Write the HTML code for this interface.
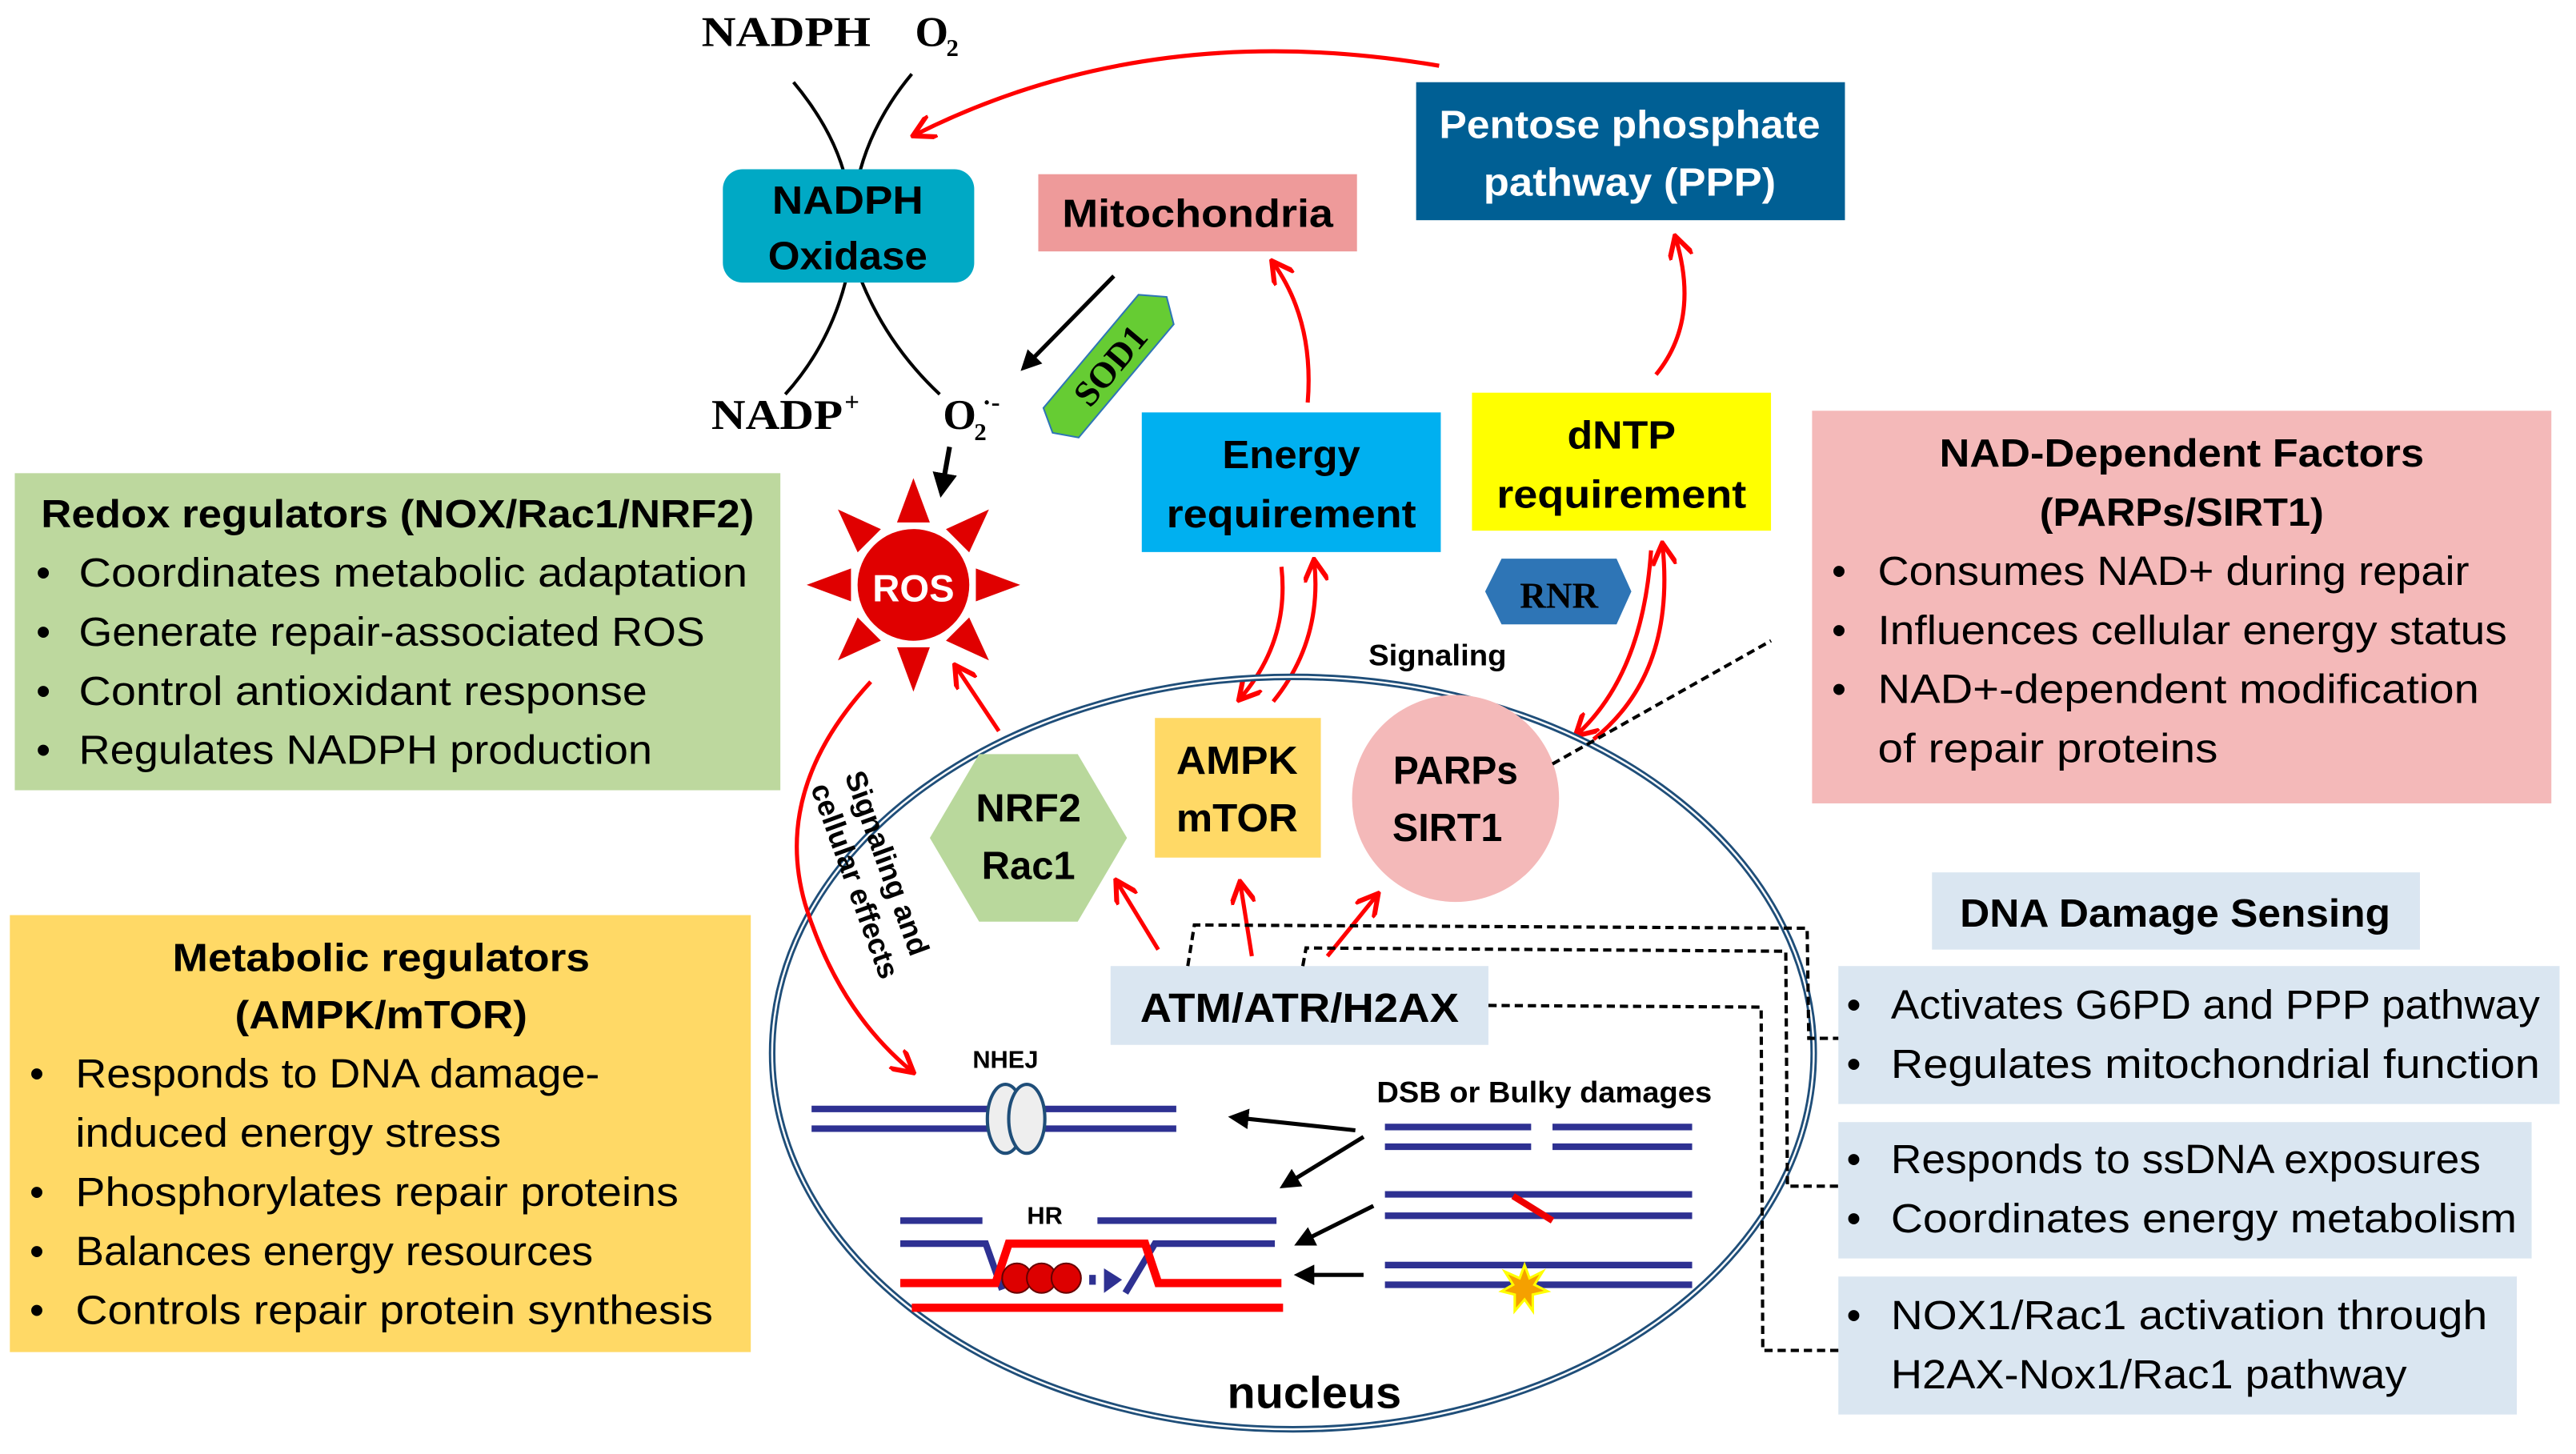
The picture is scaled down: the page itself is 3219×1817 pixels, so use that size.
<!DOCTYPE html>
<html><head><meta charset="utf-8"><style>
html,body{margin:0;padding:0;background:#fff;}
svg{display:block;}
text{font-family:"Liberation Sans",sans-serif;}
.s{font-family:"Liberation Serif",serif;font-weight:bold;}
.b{font-weight:bold;}
</style></head><body>
<svg width="3219" height="1817" viewBox="0 0 1568 885" xmlns="http://www.w3.org/2000/svg">
<defs>
<marker id="ra" viewBox="0 0 10 10" refX="8" refY="5" markerWidth="6" markerHeight="6" orient="auto"><path d="M0,0 L9,5 L0,10" fill="none" stroke="#f00" stroke-width="2"/></marker>
<marker id="ba" viewBox="0 0 10 10" refX="8" refY="5" markerWidth="5" markerHeight="5" orient="auto"><path d="M0,0 L10,5 L0,10 z" fill="#000"/></marker>
</defs>
<rect width="1568" height="885" fill="#fff"/>

<text x="427" y="28" class="s" font-size="26" textLength="103" lengthAdjust="spacingAndGlyphs">NADPH</text>
<text x="557" y="28" class="s" font-size="26">O</text><text x="576" y="34" class="s" font-size="15">2</text>
<path d="M483,50 Q508,80 515,110" fill="none" stroke="#000" stroke-width="2"/>
<path d="M555,45 Q530,75 522,110" fill="none" stroke="#000" stroke-width="2"/>
<path d="M515,170 Q505,210 478,240" fill="none" stroke="#000" stroke-width="2"/>
<path d="M524,170 Q540,210 572,240" fill="none" stroke="#000" stroke-width="2"/>
<rect x="440" y="103" width="153" height="69" rx="12" fill="#00A9C5"/>
<text x="516" y="130" text-anchor="middle" class="b" font-size="24" textLength="92" lengthAdjust="spacingAndGlyphs">NADPH</text>
<text x="516" y="164" text-anchor="middle" class="b" font-size="24" textLength="97" lengthAdjust="spacingAndGlyphs">Oxidase</text>
<text x="433" y="261" class="s" font-size="26" textLength="80" lengthAdjust="spacingAndGlyphs">NADP</text><text x="514" y="250" class="s" font-size="16">+</text>
<text x="574" y="261" class="s" font-size="26">O</text><text x="593" y="268" class="s" font-size="15">2</text><text x="598" y="250" class="s" font-size="16">·-</text>

<rect x="632" y="106" width="194" height="47" fill="#EE9A9A"/>
<text x="729" y="138" text-anchor="middle" class="b" font-size="24" textLength="165" lengthAdjust="spacingAndGlyphs">Mitochondria</text>
<rect x="862" y="50" width="261" height="84" fill="#005F94"/>
<text x="992" y="84" text-anchor="middle" class="b" font-size="24" fill="#fff" textLength="232" lengthAdjust="spacingAndGlyphs">Pentose phosphate</text>
<text x="992" y="119" text-anchor="middle" class="b" font-size="24" fill="#fff" textLength="178" lengthAdjust="spacingAndGlyphs">pathway (PPP)</text>
<path d="M876,40 Q700,10 557,82" fill="none" stroke="#f00" stroke-width="2.5" marker-end="url(#ra)"/>

<g transform="translate(678,219) rotate(-50)">
<polygon points="-50,-14 40,-14 50,0 40,14 -50,14 -58,0" fill="#66CC33" stroke="#2E75B6" stroke-width="1"/>
<text x="-4" y="8" text-anchor="middle" class="s" font-size="22">SOD1</text>
</g>
<line x1="678" y1="168" x2="623" y2="224" stroke="#000" stroke-width="2.5" marker-end="url(#ba)"/>
<line x1="578" y1="272" x2="573" y2="300" stroke="#000" stroke-width="3" marker-end="url(#ba)"/>

<g transform="translate(556,356)" fill="#E00000">
<g id="tri"><polygon points="-10,-38 10,-38 0,-65"/></g>
<use href="#tri" transform="rotate(45)"/><use href="#tri" transform="rotate(90)"/><use href="#tri" transform="rotate(135)"/>
<use href="#tri" transform="rotate(180)"/><use href="#tri" transform="rotate(225)"/><use href="#tri" transform="rotate(270)"/><use href="#tri" transform="rotate(315)"/>
<circle r="34"/>
</g>
<text x="556" y="366" text-anchor="middle" class="b" font-size="23" fill="#fff">ROS</text>

<rect x="695" y="251" width="182" height="85" fill="#00B0F0"/>
<text x="786" y="285" text-anchor="middle" class="b" font-size="24" textLength="84" lengthAdjust="spacingAndGlyphs">Energy</text>
<text x="786" y="321" text-anchor="middle" class="b" font-size="24" textLength="152" lengthAdjust="spacingAndGlyphs">requirement</text>
<rect x="896" y="239" width="182" height="84" fill="#FFFF00"/>
<text x="987" y="273" text-anchor="middle" class="b" font-size="24" textLength="66" lengthAdjust="spacingAndGlyphs">dNTP</text>
<text x="987" y="309" text-anchor="middle" class="b" font-size="24" textLength="152" lengthAdjust="spacingAndGlyphs">requirement</text>
<polygon points="914,340 984,340 993,360 984,380 914,380 904,360" fill="#2E75B6"/>
<text x="949" y="370" text-anchor="middle" class="s" font-size="22">RNR</text>
<text x="875" y="405" text-anchor="middle" class="b" font-size="18" textLength="84" lengthAdjust="spacingAndGlyphs">Signaling</text>

<path d="M796,245 Q800,195 775,160" fill="none" stroke="#f00" stroke-width="2.5" marker-end="url(#ra)"/>
<path d="M1008,228 Q1035,195 1020,145" fill="none" stroke="#f00" stroke-width="2.5" marker-end="url(#ra)"/>
<path d="M780,345 Q785,390 755,425" fill="none" stroke="#f00" stroke-width="2.5" marker-end="url(#ra)"/>
<path d="M775,427 Q805,390 800,342" fill="none" stroke="#f00" stroke-width="2.5" marker-end="url(#ra)"/>
<path d="M1005,335 Q1000,410 960,447" fill="none" stroke="#f00" stroke-width="2.5" marker-end="url(#ra)"/>
<path d="M970,450 Q1020,410 1012,332" fill="none" stroke="#f00" stroke-width="2.5" marker-end="url(#ra)"/>

<rect x="9" y="288" width="466" height="193" fill="#BDD89E"/>
<text x="242" y="321" text-anchor="middle" class="b" font-size="24" textLength="434" lengthAdjust="spacingAndGlyphs">Redox regulators (NOX/Rac1/NRF2)</text>
<g font-size="25">
<text x="22" y="357">•</text><text x="48" y="357" textLength="407" lengthAdjust="spacingAndGlyphs">Coordinates metabolic adaptation</text>
<text x="22" y="393">•</text><text x="48" y="393" textLength="381" lengthAdjust="spacingAndGlyphs">Generate repair-associated ROS</text>
<text x="22" y="429">•</text><text x="48" y="429" textLength="346" lengthAdjust="spacingAndGlyphs">Control antioxidant response</text>
<text x="22" y="465">•</text><text x="48" y="465" textLength="349" lengthAdjust="spacingAndGlyphs">Regulates NADPH production</text></g>

<rect x="6" y="557" width="451" height="266" fill="#FFD966"/>
<text x="232" y="591" text-anchor="middle" class="b" font-size="24" textLength="254" lengthAdjust="spacingAndGlyphs">Metabolic regulators</text>
<text x="232" y="626" text-anchor="middle" class="b" font-size="24" textLength="178" lengthAdjust="spacingAndGlyphs">(AMPK/mTOR)</text>
<g font-size="25">
<text x="18" y="662">•</text><text x="46" y="662" textLength="319" lengthAdjust="spacingAndGlyphs">Responds to DNA damage-</text>
<text x="46" y="698" textLength="259" lengthAdjust="spacingAndGlyphs">induced energy stress</text>
<text x="18" y="734">•</text><text x="46" y="734" textLength="367" lengthAdjust="spacingAndGlyphs">Phosphorylates repair proteins</text>
<text x="18" y="770">•</text><text x="46" y="770" textLength="315" lengthAdjust="spacingAndGlyphs">Balances energy resources</text>
<text x="18" y="806">•</text><text x="46" y="806" textLength="388" lengthAdjust="spacingAndGlyphs">Controls repair protein synthesis</text></g>

<rect x="1103" y="250" width="450" height="239" fill="#F4B9B9"/>
<text x="1328" y="284" text-anchor="middle" class="b" font-size="24" textLength="295" lengthAdjust="spacingAndGlyphs">NAD-Dependent Factors</text>
<text x="1328" y="320" text-anchor="middle" class="b" font-size="24" textLength="173" lengthAdjust="spacingAndGlyphs">(PARPs/SIRT1)</text>
<g font-size="25">
<text x="1115" y="356">•</text><text x="1143" y="356" textLength="360" lengthAdjust="spacingAndGlyphs">Consumes NAD+ during repair</text>
<text x="1115" y="392">•</text><text x="1143" y="392" textLength="383" lengthAdjust="spacingAndGlyphs">Influences cellular energy status</text>
<text x="1115" y="428">•</text><text x="1143" y="428" textLength="366" lengthAdjust="spacingAndGlyphs">NAD+-dependent modification</text>
<text x="1143" y="464" textLength="207" lengthAdjust="spacingAndGlyphs">of repair proteins</text></g>

<rect x="1176" y="531" width="297" height="47" fill="#DAE6F1"/>
<text x="1324" y="564" text-anchor="middle" class="b" font-size="24" textLength="262" lengthAdjust="spacingAndGlyphs">DNA Damage Sensing</text>
<rect x="1119" y="588" width="439" height="84" fill="#DAE6F1"/>
<rect x="1119" y="683" width="422" height="83" fill="#DAE6F1"/>
<rect x="1119" y="777" width="413" height="84" fill="#DAE6F1"/>
<g font-size="25">
<text x="1124" y="620">•</text><text x="1151" y="620" textLength="395" lengthAdjust="spacingAndGlyphs">Activates G6PD and PPP pathway</text>
<text x="1124" y="656">•</text><text x="1151" y="656" textLength="395" lengthAdjust="spacingAndGlyphs">Regulates mitochondrial function</text>
<text x="1124" y="714">•</text><text x="1151" y="714" textLength="359" lengthAdjust="spacingAndGlyphs">Responds to ssDNA exposures</text>
<text x="1124" y="750">•</text><text x="1151" y="750" textLength="381" lengthAdjust="spacingAndGlyphs">Coordinates energy metabolism</text>
<text x="1124" y="809">•</text><text x="1151" y="809" textLength="363" lengthAdjust="spacingAndGlyphs">NOX1/Rac1 activation through</text>
<text x="1151" y="845" textLength="314" lengthAdjust="spacingAndGlyphs">H2AX-Nox1/Rac1 pathway</text></g>

<ellipse cx="787" cy="641" rx="317" ry="229" fill="none" stroke="#1F4E79" stroke-width="4"/>
<ellipse cx="787" cy="641" rx="317" ry="229" fill="none" stroke="#fff" stroke-width="1.2"/>
<text x="800" y="857" text-anchor="middle" class="b" font-size="27" textLength="106" lengthAdjust="spacingAndGlyphs">nucleus</text>

<polygon points="596,459 656,459 686,510 656,561 596,561 566,510" fill="#B9D89C"/>
<text x="626" y="500" text-anchor="middle" class="b" font-size="24" textLength="64" lengthAdjust="spacingAndGlyphs">NRF2</text>
<text x="626" y="535" text-anchor="middle" class="b" font-size="24" textLength="57" lengthAdjust="spacingAndGlyphs">Rac1</text>
<rect x="703" y="437" width="101" height="85" fill="#FFD966"/>
<text x="753" y="471" text-anchor="middle" class="b" font-size="24" textLength="74" lengthAdjust="spacingAndGlyphs">AMPK</text>
<text x="753" y="506" text-anchor="middle" class="b" font-size="24" textLength="74" lengthAdjust="spacingAndGlyphs">mTOR</text>
<circle cx="886" cy="486" r="63" fill="#F4B9B9"/>
<text x="886" y="477" text-anchor="middle" class="b" font-size="24" textLength="76" lengthAdjust="spacingAndGlyphs">PARPs</text>
<text x="881" y="512" text-anchor="middle" class="b" font-size="24" textLength="67" lengthAdjust="spacingAndGlyphs">SIRT1</text>
<rect x="676" y="588" width="230" height="48" fill="#DAE6F1"/>
<text x="791" y="622" text-anchor="middle" class="b" font-size="25" textLength="194" lengthAdjust="spacingAndGlyphs">ATM/ATR/H2AX</text>

<line x1="608" y1="445" x2="582" y2="406" stroke="#f00" stroke-width="2.5" marker-end="url(#ra)"/>
<line x1="705" y1="578" x2="680" y2="537" stroke="#f00" stroke-width="2.5" marker-end="url(#ra)"/>
<line x1="762" y1="582" x2="755" y2="538" stroke="#f00" stroke-width="2.5" marker-end="url(#ra)"/>
<line x1="808" y1="582" x2="838" y2="545" stroke="#f00" stroke-width="2.5" marker-end="url(#ra)"/>
<path d="M530,415 Q470,480 490,550 Q510,615 555,652" fill="none" stroke="#f00" stroke-width="2.5" marker-end="url(#ra)"/>
<g transform="translate(514,472) rotate(70)">
<text x="0" y="0" class="b" font-size="18" textLength="118" lengthAdjust="spacingAndGlyphs">Signaling and</text>
<text x="0" y="22" class="b" font-size="18" textLength="125" lengthAdjust="spacingAndGlyphs">cellular effects</text></g>

<g fill="none" stroke="#000" stroke-width="2" stroke-dasharray="5,3">
<path d="M945,465 L1078,390"/>
<path d="M723,588 L727,563 L1100,565 L1101,632 L1119,632"/>
<path d="M793,588 L795,577 L1087,579 L1088,722 L1119,722"/>
<path d="M906,612 L1072,613 L1073,822 L1119,822"/>
</g>

<g stroke="#2E3192" stroke-width="4">
<line x1="494" y1="675" x2="716" y2="675"/><line x1="494" y1="687" x2="716" y2="687"/>
<line x1="843" y1="686" x2="932" y2="686"/><line x1="945" y1="686" x2="1030" y2="686"/>
<line x1="843" y1="698" x2="932" y2="698"/><line x1="945" y1="698" x2="1030" y2="698"/>
<line x1="843" y1="727" x2="1030" y2="727"/><line x1="843" y1="740" x2="1030" y2="740"/>
<line x1="843" y1="770" x2="1030" y2="770"/><line x1="843" y1="782" x2="1030" y2="782"/>
<line x1="548" y1="743" x2="598" y2="743"/><line x1="668" y1="743" x2="777" y2="743"/>
<polyline points="548,757 600,757 610,785" fill="none"/>
<polyline points="685,787 703,757 776,757" fill="none"/>
</g>
<ellipse cx="612" cy="681" rx="11" ry="21" fill="#eee" stroke="#1F4E79" stroke-width="2"/>
<ellipse cx="625" cy="681" rx="11" ry="21" fill="#eee" stroke="#1F4E79" stroke-width="2"/>
<text x="612" y="650" text-anchor="middle" class="b" font-size="15">NHEJ</text>
<text x="636" y="745" text-anchor="middle" class="b" font-size="15">HR</text>
<line x1="921" y1="728" x2="945" y2="743" stroke="#E00" stroke-width="4"/>
<polygon points="928,770 931,778 939,774 934,782 942,786 933,788 933,798 928,791 922,798 922,788 914,786 921,782 916,774 925,778" fill="#F5A000" stroke="#FFFF00" stroke-width="1.5"/>
<polyline points="548,781 606,781 614,757 697,757 705,781 780,781" fill="none" stroke="#f00" stroke-width="5"/>
<line x1="555" y1="796" x2="781" y2="796" stroke="#f00" stroke-width="5"/>
<g fill="#D00" stroke="#600" stroke-width="1"><circle cx="619" cy="778" r="9"/><circle cx="634" cy="778" r="9"/><circle cx="649" cy="778" r="9"/></g>
<rect x="663" y="776" width="4" height="6" fill="#2E3192"/>
<polygon points="672,772 683,779 672,787" fill="#2E3192"/>
<text x="940" y="671" text-anchor="middle" class="b" font-size="18" textLength="204" lengthAdjust="spacingAndGlyphs">DSB or Bulky damages</text>
<g stroke="#000" stroke-width="2.5" marker-end="url(#ba)">
<line x1="825" y1="688" x2="750" y2="680"/>
<line x1="830" y1="692" x2="781" y2="722"/>
<line x1="836" y1="734" x2="790" y2="757"/>
<line x1="830" y1="776" x2="790" y2="776"/>
</g>
</svg>
</body></html>
